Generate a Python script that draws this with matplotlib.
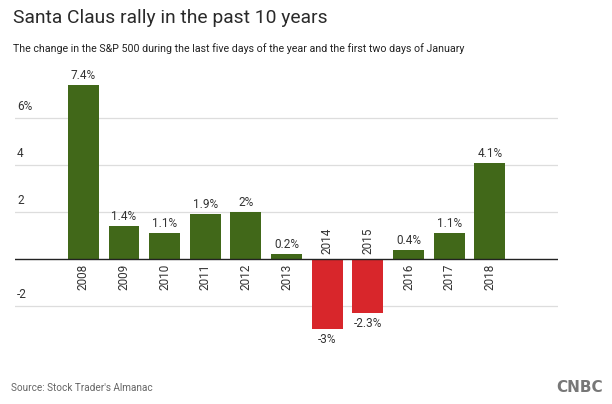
import matplotlib.pyplot as plt

years = ['2008', '2009', '2010', '2011', '2012', '2013', '2014', '2015', '2016', '2017', '2018']
changes = [7.4, 1.4, 1.1, 1.9, 2.0, 0.2, -3.0, -2.3, 0.4, 1.1, 4.1]
value_labels = ['7.4%', '1.4%', '1.1%', '1.9%', '2%', '0.2%', '-3%', '-2.3%', '0.4%', '1.1%', '4.1%']
ytick_values = [-2, 2, 4, 6]
ytick_labels = ['-2', '2', '4', '6%']

green = '#416819'
red = '#d8262b'
text_col = '#333333'

plt.rcParams['font.family'] = ['Roboto', 'DejaVu Sans']

fig = plt.figure(figsize=(6.12, 4.04), dpi=100)
ax = fig.add_axes([0.0245, 0.167, 0.8875, 0.640])

x = list(range(len(years)))
colors = [green if v >= 0 else red for v in changes]
ax.bar(x, changes, width=0.76, color=colors, zorder=3)

ax.set_xlim(-1.68, 11.68)
ax.set_ylim(-3.3, 7.7)

# gridlines and zero line
for v in ytick_values:
    ax.axhline(v, color='#dddddd', lw=0.9, zorder=1)
ax.axhline(0, color='#222222', lw=1.0, zorder=4)

# y tick labels sit just above gridlines
for v, lab in zip(ytick_values, ytick_labels):
    ax.text(-1.63, v + 0.2, lab, ha='left', va='bottom', fontsize=8.5, color=text_col)

# value labels and year labels
for xi, v, lab, yr in zip(x, changes, value_labels, years):
    if v >= 0:
        ax.text(xi, v + 0.12, lab, ha='center', va='bottom', fontsize=8.5, color=text_col)
        ax.text(xi, -0.2, yr, ha='center', va='top', rotation=90, fontsize=8.5, color=text_col)
    else:
        ax.text(xi, v - 0.15, lab, ha='center', va='top', fontsize=8.5, color=text_col)
        ax.text(xi, 0.2, yr, ha='center', va='bottom', rotation=90, fontsize=8.5, color=text_col)

ax.set_axis_off()

fig.text(0.022, 0.955, 'Santa Claus rally in the past 10 years', fontsize=13.9,
         color='#2a2a2a', ha='left', va='center')
fig.text(0.022, 0.88, 'The change in the S&P 500 during the last five days of the year and the first two days of January',
         fontsize=7.65, color='#222222', ha='left', va='center')
fig.text(0.018, 0.04, "Source: Stock Trader's Almanac", fontsize=7.2, color='#666666',
         ha='left', va='center')
fig.text(0.985, 0.04, 'CNBC', fontsize=11, fontweight='bold', color='#777777',
         ha='right', va='center', family='DejaVu Sans')

fig.savefig('out.png', dpi=100)
